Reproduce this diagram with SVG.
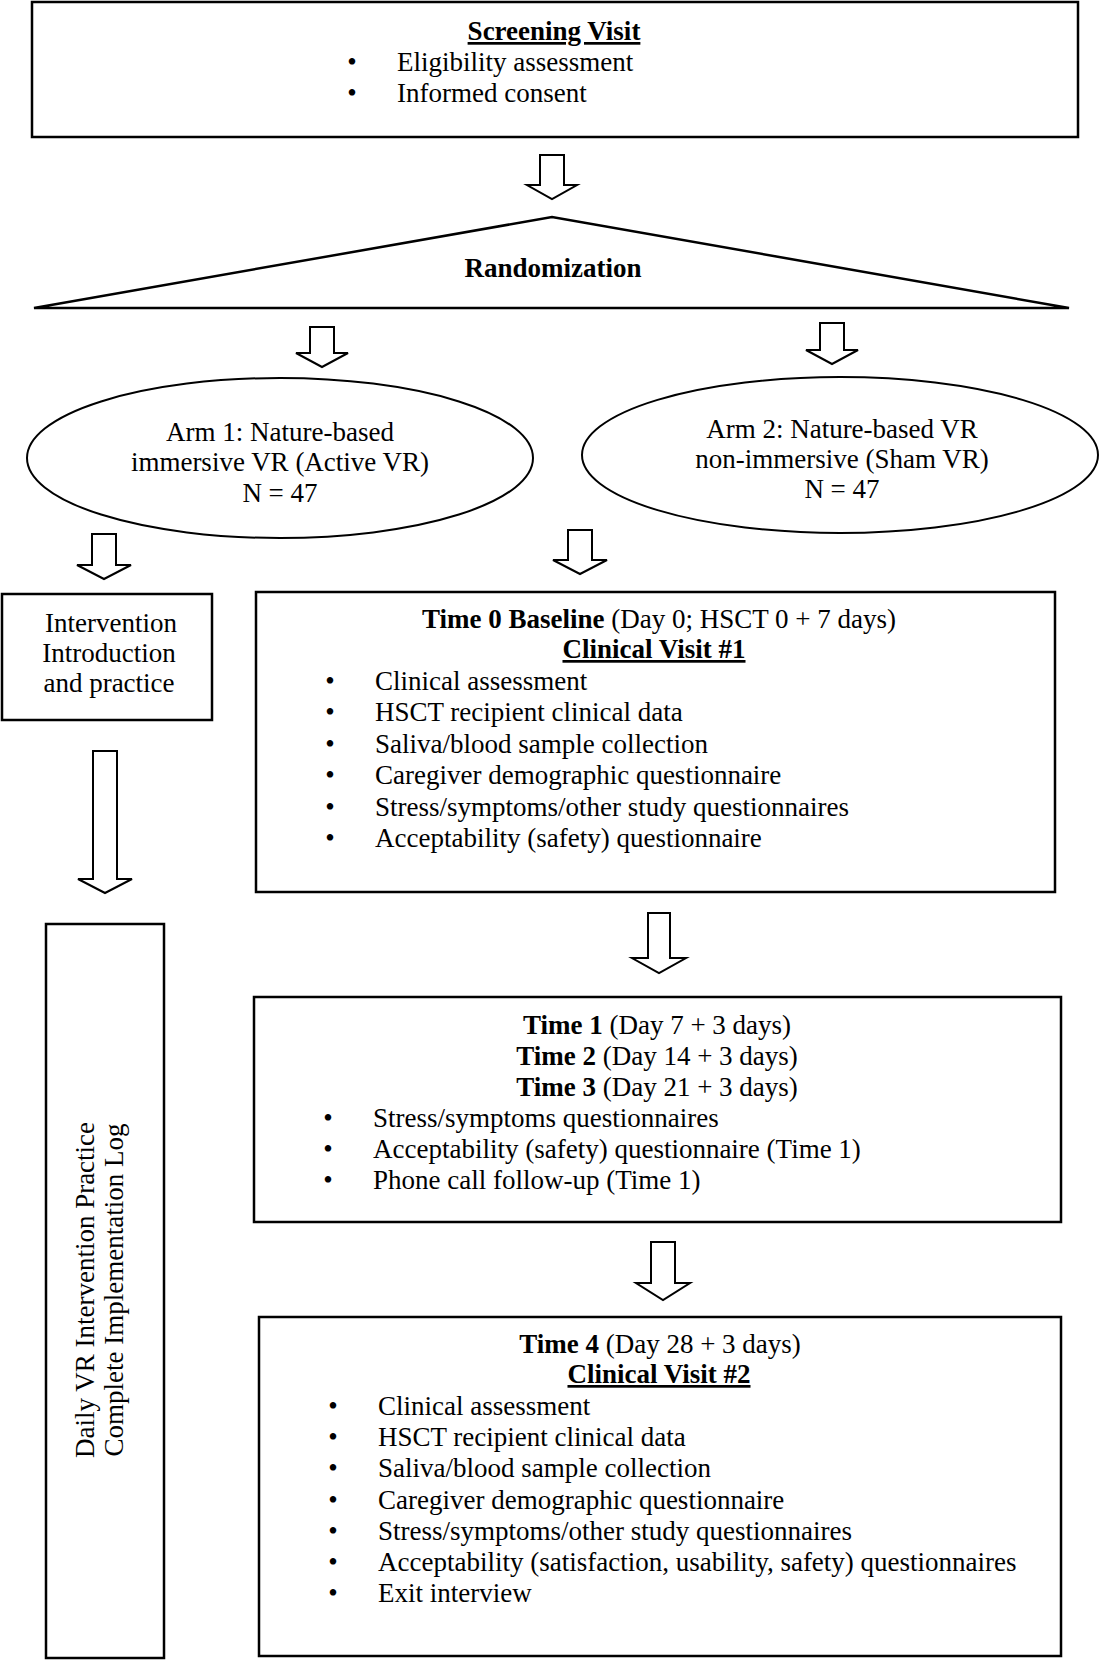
<svg xmlns="http://www.w3.org/2000/svg" width="1101" height="1668" viewBox="0 0 1101 1668">
<style>
text{font-family:"Liberation Serif","Times New Roman",serif;font-size:27px;fill:#000}
.c{text-anchor:middle}
.b{font-weight:bold}
.u{text-decoration:underline}
.box{fill:#fff;stroke:#000;stroke-width:2.5}
.arr{fill:#fff;stroke:#000;stroke-width:2;stroke-linejoin:miter}
</style>
<rect width="1101" height="1668" fill="#fff"/>
<g id="connectors">
<path class="arr" d="M540,155H564V185H577L552,199L527,185H540Z"/>
<path class="arr" d="M310,327H334V353H348L322,367L296,353H310Z"/>
<path class="arr" d="M820,323H844V350H858L832,364L806,350H820Z"/>
<path class="arr" d="M92,534H116V565H131L104,579L77,565H92Z"/>
<path class="arr" d="M568,530H592V560H607L580,574L553,560H568Z"/>
<path class="arr" d="M93,751H117V879H132L105,893L78,879H93Z"/>
<path class="arr" d="M648,913H670V958H686L659,973L632,958H648Z"/>
<path class="arr" d="M651,1242H675V1283H690L663,1300L636,1283H651Z"/>
</g>
<g id="screening">
<rect class="box" x="32" y="2" width="1046" height="135"/>
<text class="c b u" x="554" y="40">Screening Visit</text>
<text class="c" x="352" y="71">•</text><text x="397" y="71">Eligibility assessment</text>
<text class="c" x="352" y="102">•</text><text x="397" y="102">Informed consent</text>
</g>
<g id="randomization">
<path d="M34,308L552,217L1069,308Z" fill="#fff" stroke="#000" stroke-width="2.5" stroke-linejoin="miter"/>
<text class="c b" x="553" y="277">Randomization</text>
</g>
<g id="arm1">
<ellipse cx="280" cy="458" rx="253" ry="80" fill="#fff" stroke="#000" stroke-width="2"/>
<text class="c" x="280" y="441">Arm 1: Nature-based</text>
<text class="c" x="280" y="471">immersive VR (Active VR)</text>
<text class="c" x="280" y="502">N = 47</text>
</g>
<g id="arm2">
<ellipse cx="840" cy="455" rx="258" ry="78" fill="#fff" stroke="#000" stroke-width="2"/>
<text class="c" x="842" y="438">Arm 2: Nature-based VR</text>
<text class="c" x="842" y="468">non-immersive (Sham VR)</text>
<text class="c" x="842" y="498">N = 47</text>
</g>
<g id="intervention">
<rect class="box" x="2" y="594" width="210" height="126"/>
<text class="c" x="111" y="632">Intervention</text>
<text class="c" x="109" y="662">Introduction</text>
<text class="c" x="109" y="692">and practice</text>
</g>
<g id="time0">
<rect class="box" x="256" y="592" width="799" height="300"/>
<text class="c" x="659" y="628"><tspan class="b">Time 0 Baseline</tspan> (Day 0; HSCT 0 + 7 days)</text>
<text class="c b u" x="654" y="658">Clinical Visit #1</text>
<text class="c" x="330" y="690">•</text><text x="375" y="690">Clinical assessment</text>
<text class="c" x="330" y="721">•</text><text x="375" y="721">HSCT recipient clinical data</text>
<text class="c" x="330" y="753">•</text><text x="375" y="753">Saliva/blood sample collection</text>
<text class="c" x="330" y="784">•</text><text x="375" y="784">Caregiver demographic questionnaire</text>
<text class="c" x="330" y="816">•</text><text x="375" y="816">Stress/symptoms/other study questionnaires</text>
<text class="c" x="330" y="847">•</text><text x="375" y="847">Acceptability (safety) questionnaire</text>
</g>
<g id="daily">
<rect class="box" x="46" y="924" width="118" height="734"/>
<text class="c" transform="translate(94,1290) rotate(-90)">Daily VR Intervention Practice</text>
<text class="c" transform="translate(123,1290) rotate(-90)">Complete Implementation Log</text>
</g>
<g id="time123">
<rect class="box" x="254" y="997" width="807" height="225"/>
<text class="c" x="657" y="1034"><tspan class="b">Time 1</tspan> (Day 7 + 3 days)</text>
<text class="c" x="657" y="1065"><tspan class="b">Time 2</tspan> (Day 14 + 3 days)</text>
<text class="c" x="657" y="1096"><tspan class="b">Time 3</tspan> (Day 21 + 3 days)</text>
<text class="c" x="328" y="1127">•</text><text x="373" y="1127">Stress/symptoms questionnaires</text>
<text class="c" x="328" y="1158">•</text><text x="373" y="1158">Acceptability (safety) questionnaire (Time 1)</text>
<text class="c" x="328" y="1189">•</text><text x="373" y="1189">Phone call follow-up (Time 1)</text>
</g>
<g id="time4">
<rect class="box" x="259" y="1317" width="802" height="339"/>
<text class="c" x="660" y="1353"><tspan class="b">Time 4</tspan> (Day 28 + 3 days)</text>
<text class="c b u" x="659" y="1383">Clinical Visit #2</text>
<text class="c" x="333" y="1415">•</text><text x="378" y="1415">Clinical assessment</text>
<text class="c" x="333" y="1446">•</text><text x="378" y="1446">HSCT recipient clinical data</text>
<text class="c" x="333" y="1477">•</text><text x="378" y="1477">Saliva/blood sample collection</text>
<text class="c" x="333" y="1509">•</text><text x="378" y="1509">Caregiver demographic questionnaire</text>
<text class="c" x="333" y="1540">•</text><text x="378" y="1540">Stress/symptoms/other study questionnaires</text>
<text class="c" x="333" y="1571">•</text><text x="378" y="1571">Acceptability (satisfaction, usability, safety) questionnaires</text>
<text class="c" x="333" y="1602">•</text><text x="378" y="1602">Exit interview</text>
</g>
</svg>
